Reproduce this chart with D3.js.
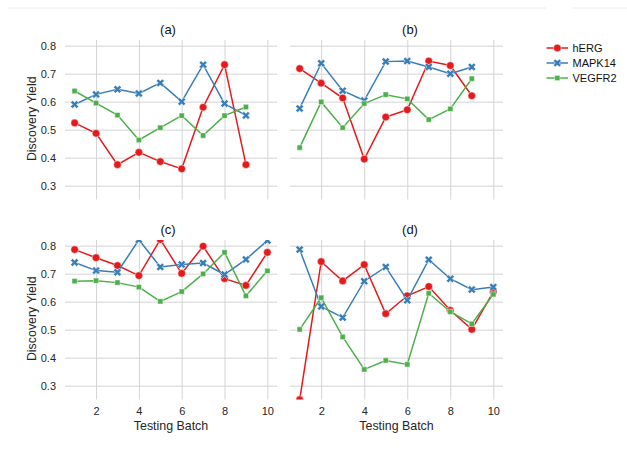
<!DOCTYPE html>
<html>
<head>
<meta charset="utf-8">
<script src="https://cdn.jsdelivr.net/npm/d3@7"></script>
<style>
    body { margin: 0; background: #fff; }
    svg { font-family: "Liberation Sans", Arial, sans-serif; }
    .grid line { stroke: #d4d4d4; stroke-width: 1; }
    .grid .domain { display: none; }
    .grid text { fill: #262626; font-size: 11px; }
    .label { fill: #262626; font-size: 12.4px; }
    .title { fill: #111; font-size: 13px; }
    .legend text { fill: #111; font-size: 11px; }
</style>
</head>
<body>
<svg id="chart" width="627" height="449"></svg>
<script>
// Data
const batchTop = [1, 2, 3, 4, 5, 6, 7, 8, 9];
const batchBottom = [1, 2, 3, 4, 5, 6, 7, 8, 9, 10];

const herg_a   = [0.524, 0.487, 0.375, 0.419, 0.386, 0.360, 0.580, 0.732, 0.375];
const mapk14_a = [0.590, 0.626, 0.644, 0.629, 0.667, 0.600, 0.732, 0.593, 0.551];
const vegfr2_a = [0.638, 0.595, 0.552, 0.463, 0.507, 0.550, 0.479, 0.550, 0.581];

const herg_b   = [0.718, 0.666, 0.613, 0.395, 0.545, 0.571, 0.745, 0.729, 0.621];
const mapk14_b = [0.576, 0.737, 0.639, 0.604, 0.743, 0.745, 0.724, 0.700, 0.724];
const vegfr2_b = [0.436, 0.599, 0.507, 0.593, 0.625, 0.610, 0.536, 0.574, 0.682];

const herg_c   = [0.786, 0.757, 0.729, 0.693, 0.822, 0.701, 0.798, 0.682, 0.658, 0.776];
const mapk14_c = [0.740, 0.711, 0.705, 0.821, 0.724, 0.733, 0.738, 0.697, 0.751, 0.818];
const vegfr2_c = [0.673, 0.675, 0.668, 0.652, 0.601, 0.636, 0.699, 0.776, 0.621, 0.710];

const herg_d   = [0.250, 0.743, 0.674, 0.732, 0.557, 0.621, 0.654, 0.569, 0.501, 0.635];
const mapk14_d = [0.786, 0.583, 0.543, 0.673, 0.724, 0.605, 0.750, 0.682, 0.643, 0.652];
const vegfr2_d = [0.501, 0.614, 0.474, 0.358, 0.390, 0.376, 0.630, 0.564, 0.521, 0.626];

const seriesNames = ["hERG", "MAPK14", "VEGFR2"];
const panelTitles = ["(a)", "(b)", "(c)", "(d)"];
const yTicks = [0.3, 0.4, 0.5, 0.6, 0.7, 0.8];
const xTicks = [2, 4, 6, 8, 10];

const colors = { "hERG": "#e41a1c", "MAPK14": "#377eb8", "VEGFR2": "#4daf4a" };

const panels = [
    { title: panelTitles[0], x: batchTop, values: [herg_a, mapk14_a, vegfr2_a], col: 0, row: 0 },
    { title: panelTitles[1], x: batchTop, values: [herg_b, mapk14_b, vegfr2_b], col: 1, row: 0 },
    { title: panelTitles[2], x: batchBottom, values: [herg_c, mapk14_c, vegfr2_c], col: 0, row: 1 },
    { title: panelTitles[3], x: batchBottom, values: [herg_d, mapk14_d, vegfr2_d], col: 1, row: 1 }
];

const svg = d3.select('#chart');

// faint line across the top
svg.append('line').attr('x1', 8).attr('x2', 546).attr('y1', 8).attr('y2', 8)
    .attr('stroke', '#ececec');
svg.append('line').attr('x1', 572).attr('x2', 627).attr('y1', 8).attr('y2', 8)
    .attr('stroke', '#ececec');

const colX = [[65, 277], [290, 503]];
const rowY = [[40, 199.5], [240, 399.5]];
const titleX = [168, 410];

function marker(name) {
    if (name === "hERG") return d3.symbol(d3.symbolCircle, 46)();
    if (name === "MAPK14") return d3.symbol(d3.symbolCross, 40)();
    return d3.symbol(d3.symbolSquare, 28)();
}

panels.forEach((p, i) => {
    const [x0, x1] = colX[p.col];
    const [y0, y1] = rowY[p.row];
    const width = x1 - x0;
    const height = y1 - y0;

    const xScale = d3.scaleLinear().domain([0.55, 10.45]).range([0, width]);
    const yScale = d3.scaleLinear().domain([0.2506, 0.8202]).range([height, 0]);

    const g = svg.append('g').attr('transform', `translate(${x0}, ${y0})`);

    // horizontal grid + y labels
    g.append('g')
        .attr('class', 'grid')
        .call(d3.axisLeft(yScale)
            .tickValues(yTicks)
            .tickSize(-width)
            .tickPadding(9)
            .tickFormat(p.col === 0 ? d3.format('.1f') : ''));

    // vertical grid + x labels
    g.append('g')
        .attr('class', 'grid')
        .attr('transform', `translate(0, ${height})`)
        .call(d3.axisBottom(xScale)
            .tickValues(xTicks)
            .tickSize(-height)
            .tickPadding(8)
            .tickFormat(p.row === 1 ? d3.format('d') : ''));

    const clipId = 'clip' + i;
    g.append('clipPath').attr('id', clipId)
        .append('rect').attr('width', width).attr('height', height);

    const plot = g.append('g').attr('clip-path', `url(#${clipId})`);

    const line = d3.line()
        .x((d) => xScale(d[0]))
        .y((d) => yScale(d[1]));

    p.values.forEach((vals, s) => {
        const name = seriesNames[s];
        const pts = vals.map((v, k) => [p.x[k], v]);
        plot.append('path')
            .datum(pts)
            .attr('fill', 'none')
            .attr('stroke', colors[name])
            .attr('stroke-width', 1.5)
            .attr('d', line);

        plot.selectAll(null)
            .data(pts)
            .enter()
            .append('path')
            .attr('d', marker(name))
            .attr('transform', (d) => `translate(${xScale(d[0])}, ${yScale(d[1])})` + (name === "MAPK14" ? ' rotate(45)' : ''))
            .attr('fill', colors[name])
            .attr('stroke', '#fff')
            .attr('stroke-width', 0.5);
    });

    svg.append('text')
        .attr('class', 'title')
        .attr('x', titleX[p.col])
        .attr('y', y0 - 6)
        .attr('text-anchor', 'middle')
        .text(p.title);

    if (p.col === 0) {
        svg.append('text')
            .attr('class', 'label')
            .attr('transform', `translate(36, ${(y0 + y1) / 2 - 1}) rotate(-90)`)
            .attr('text-anchor', 'middle')
            .text('Discovery Yield');
    }
    if (p.row === 1) {
        svg.append('text')
            .attr('class', 'label')
            .attr('x', x0 + width / 2)
            .attr('y', 429.5)
            .attr('text-anchor', 'middle')
            .text('Testing Batch');
    }
});

// legend
const legend = svg.append('g').attr('class', 'legend');
seriesNames.forEach((name, i) => {
    const ly = 48 + i * 15;
    legend.append('line')
        .attr('x1', 546.5).attr('x2', 568)
        .attr('y1', ly).attr('y2', ly)
        .attr('stroke', colors[name])
        .attr('stroke-width', 1.5);
    legend.append('path')
        .attr('d', marker(name))
        .attr('transform', `translate(557.3, ${ly})` + (name === "MAPK14" ? ' rotate(45)' : ''))
        .attr('fill', colors[name])
        .attr('stroke', '#fff')
        .attr('stroke-width', 0.5);
    legend.append('text')
        .attr('x', 572.5)
        .attr('y', ly)
        .attr('dy', '0.36em')
        .text(name);
});
</script>
</body>
</html>
